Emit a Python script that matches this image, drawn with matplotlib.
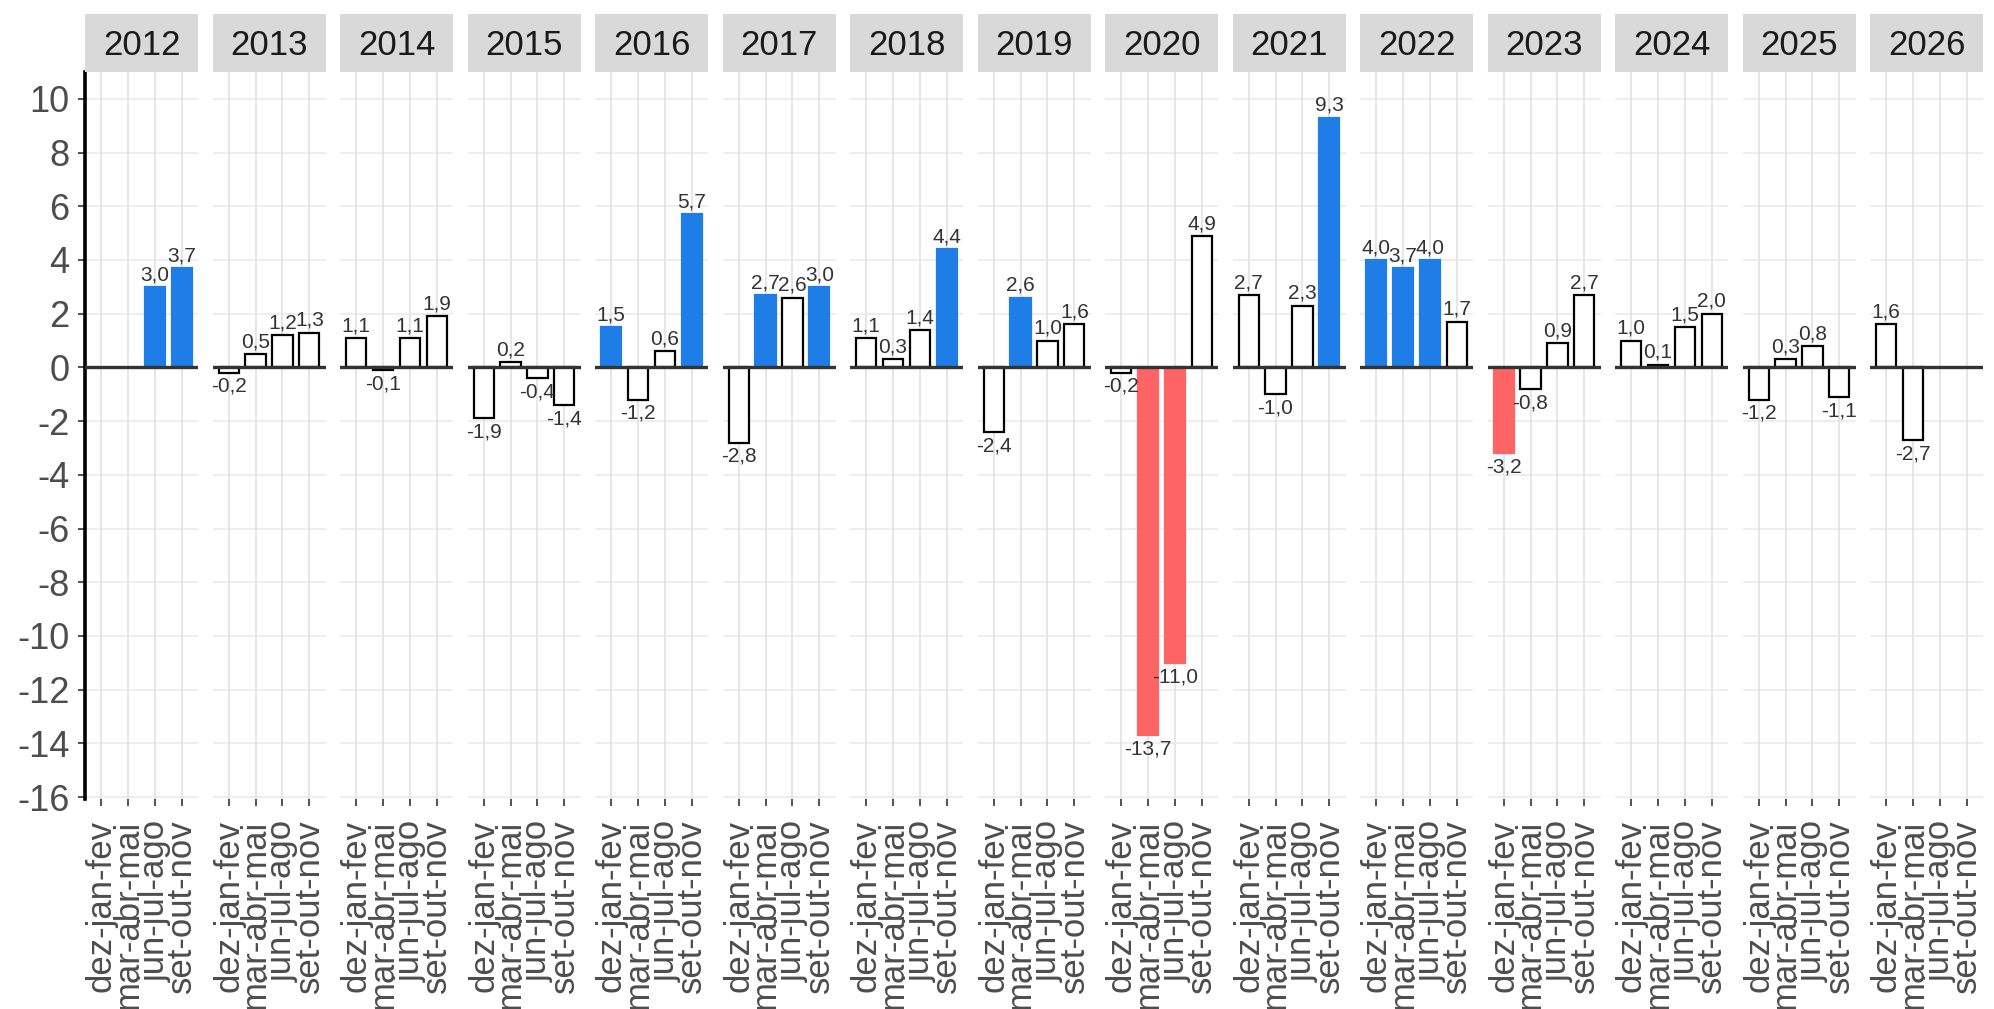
import matplotlib
matplotlib.use("Agg")
import matplotlib.pyplot as plt

# dados: variacao trimestral por ano
years = [2012, 2013, 2014, 2015, 2016, 2017, 2018, 2019,
         2020, 2021, 2022, 2023, 2024, 2025, 2026]
quarters = ["dez-jan-fev", "mar-abr-mai", "jun-jul-ago", "set-out-nov"]

values = [
    [None, None, 3.0, 3.7],
    [-0.2, 0.5, 1.2, 1.3],
    [1.1, -0.1, 1.1, 1.9],
    [-1.9, 0.2, -0.4, -1.4],
    [1.5, -1.2, 0.6, 5.7],
    [-2.8, 2.7, 2.6, 3.0],
    [1.1, 0.3, 1.4, 4.4],
    [-2.4, 2.6, 1.0, 1.6],
    [-0.2, -13.7, -11.0, 4.9],
    [2.7, -1.0, 2.3, 9.3],
    [4.0, 3.7, 4.0, 1.7],
    [-3.2, -0.8, 0.9, 2.7],
    [1.0, 0.1, 1.5, 2.0],
    [-1.2, 0.3, 0.8, -1.1],
    [1.6, -2.7, None, None],
]

# classe de cada barra: a = alta, b = baixa, n = neutro
status = [
    ["n", "n", "a", "a"],
    ["n", "n", "n", "n"],
    ["n", "n", "n", "n"],
    ["n", "n", "n", "n"],
    ["a", "n", "n", "a"],
    ["n", "a", "n", "a"],
    ["n", "n", "n", "a"],
    ["n", "a", "n", "n"],
    ["n", "b", "b", "n"],
    ["n", "n", "n", "a"],
    ["a", "a", "a", "n"],
    ["b", "n", "n", "n"],
    ["n", "n", "n", "n"],
    ["n", "n", "n", "n"],
    ["n", "n", "n", "n"],
]

yticks = list(range(-16, 11, 2))

fill = {"a": "#1E7DE6", "b": "#FF6464", "n": "white"}
edge = {"a": "#1E7DE6", "b": "#FF6464", "n": "black"}

plt.rcParams["font.family"] = ["Liberation Sans", "DejaVu Sans"]

W, H = 1994, 1009
fig = plt.figure(figsize=(W / 100, H / 100), dpi=100)

x0, step, pw = 85, 127.5, 113
top, bottom = 72, 799
strip_top = 14

xs = [1, 2, 3, 4]

for i, year in enumerate(years):
    left = x0 + i * step
    ax = fig.add_axes([left / W, (H - bottom) / H, pw / W, (bottom - top) / H])
    sx = fig.add_axes([left / W, (H - top) / H, pw / W, (top - strip_top) / H])

    # faixa com o ano
    sx.set_facecolor("#D9D9D9")
    sx.set_xticks([])
    sx.set_yticks([])
    for s in sx.spines.values():
        s.set_visible(False)
    sx.text(0.5, 0.45, str(year), transform=sx.transAxes, ha="center",
            va="center", fontsize=25, color="#1A1A1A")

    ax.set_xlim(0.4, 4.6)
    ax.set_ylim(-16.07, 11.0)

    for y in yticks:
        ax.axhline(y, color="#EBEBEB", lw=1.2, zorder=0)
    for x in xs:
        ax.axvline(x, color="#E2E2E2", lw=1.2, zorder=0)

    for x, v, c in zip(xs, values[i], status[i]):
        if v is None:
            continue
        ax.bar(x, v, width=0.75, color=fill[c], edgecolor=edge[c],
               linewidth=1.6, zorder=2)
        lab = f"{v:.1f}".replace(".", ",")
        if v >= 0:
            ax.annotate(lab, (x, v), xytext=(0, 2), textcoords="offset points",
                        ha="center", va="bottom", fontsize=15, color="#333333",
                        zorder=4)
        else:
            ax.annotate(lab, (x, v), xytext=(0, -3), textcoords="offset points",
                        ha="center", va="top", fontsize=15, color="#333333",
                        zorder=4)

    ax.axhline(0, color="#333333", lw=2.4, zorder=3)

    for s in ["top", "right", "bottom"]:
        ax.spines[s].set_visible(False)

    ax.set_xticks(xs)
    ax.set_xticklabels(quarters, rotation=90, fontsize=25, color="#4D4D4D")
    ax.tick_params(axis="x", length=5, width=1.2, color="#333333", pad=10)

    if i == 0:
        ax.spines["left"].set_linewidth(2.6)
        ax.spines["left"].set_color("black")
        ax.set_yticks(yticks)
        ax.set_yticklabels([str(y) for y in yticks], fontsize=26, color="#4D4D4D")
        ax.tick_params(axis="y", length=5, width=1.2, color="#333333", pad=6)
    else:
        ax.spines["left"].set_visible(False)
        ax.set_yticks(yticks)
        ax.tick_params(axis="y", left=False, labelleft=False)

fig.savefig("out.png", dpi=100)
